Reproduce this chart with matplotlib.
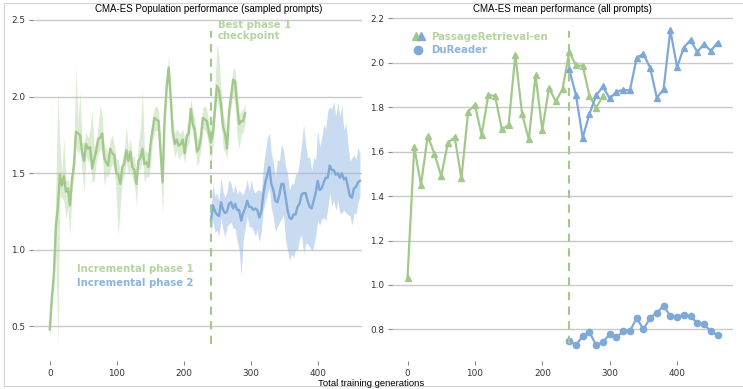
import matplotlib
matplotlib.use("Agg")
import matplotlib.pyplot as plt
from matplotlib.legend_handler import HandlerTuple
from matplotlib.lines import Line2D
from matplotlib.patches import Rectangle
import numpy as np

# ---------------- left panel: population performance (sampled prompts) ----------------
phase1_gen = [0, 3, 6, 9, 12, 15, 18, 21, 24, 27, 30, 33, 36, 39, 42, 45, 48, 51, 54, 57,
              60, 63, 66, 69, 72, 75, 78, 81, 84, 87, 90, 93, 96, 99, 102, 105, 108, 111, 114, 117,
              120, 123, 126, 129, 132, 135, 138, 141, 144, 147, 150, 153, 156, 159, 162, 165, 168, 171, 174, 177,
              180, 183, 186, 189, 192, 195, 198, 201, 204, 207, 210, 213, 216, 219, 222, 225, 228, 231, 234, 237,
              240, 243, 246, 249, 252, 255, 258, 261, 264, 267, 270, 273, 276, 279, 282, 285, 288, 291]
phase1_mean = [0.48, 0.68, 0.83, 1.15, 1.28, 1.49, 1.42, 1.48, 1.38, 1.40, 1.29, 1.46, 1.55, 1.77, 1.76, 1.75, 1.64, 1.58, 1.69, 1.66,
               1.67, 1.53, 1.59, 1.64, 1.72, 1.73, 1.76, 1.60, 1.57, 1.55, 1.66, 1.63, 1.62, 1.50, 1.49, 1.43, 1.54, 1.56, 1.65, 1.58,
               1.64, 1.54, 1.52, 1.43, 1.58, 1.60, 1.66, 1.56, 1.57, 1.54, 1.69, 1.78, 1.86, 1.85, 1.84, 1.64, 1.44, 1.86, 2.06, 2.19,
               2.00, 1.77, 1.69, 1.72, 1.68, 1.69, 1.72, 1.63, 1.74, 1.76, 1.92, 1.82, 1.78, 1.64, 1.66, 1.73, 1.86, 1.85, 1.84, 1.76,
               1.70, 1.76, 1.92, 2.07, 2.04, 1.95, 1.80, 1.76, 1.66, 1.90, 2.00, 2.11, 2.10, 1.95, 1.82, 1.84, 1.84, 1.89]
phase1_up = [0.05, 0.08, 0.12, 0.25, 0.75, 0.20, 0.08, 0.25, 0.07, 0.06, 0.10, 0.08, 0.12, 0.42, 0.08, 0.28, 0.06, 0.12, 0.08, 0.07,
             0.12, 0.38, 0.08, 0.07, 0.09, 0.22, 0.12, 0.07, 0.09, 0.08, 0.06, 0.12, 0.07, 0.09, 0.10, 0.07, 0.06, 0.09, 0.16, 0.07,
             0.09, 0.07, 0.09, 0.07, 0.12, 0.20, 0.38, 0.09, 0.07, 0.09, 0.07, 0.10, 0.07, 0.09, 0.07, 0.09, 0.09, 0.07, 0.06, 0.08,
             0.07, 0.09, 0.07, 0.07, 0.09, 0.07, 0.07, 0.09, 0.07, 0.09, 0.07, 0.09, 0.07, 0.09, 0.07, 0.09, 0.07, 0.09, 0.07, 0.07,
             0.09, 0.14, 0.15, 0.28, 0.22, 0.10, 0.09, 0.07, 0.09, 0.10, 0.07, 0.08, 0.07, 0.09, 0.07, 0.06, 0.08, 0.06]
phase1_down = [0.05, 0.06, 0.08, 0.18, 0.90, 0.14, 0.08, 0.16, 0.18, 0.12, 0.20, 0.09, 0.07, 0.09, 0.14, 0.09, 0.12, 0.20, 0.07, 0.09,
               0.06, 0.09, 0.14, 0.07, 0.09, 0.07, 0.12, 0.18, 0.09, 0.07, 0.14, 0.07, 0.09, 0.14, 0.40, 0.14, 0.09, 0.07, 0.07, 0.09,
               0.12, 0.07, 0.09, 0.14, 0.06, 0.07, 0.07, 0.12, 0.09, 0.07, 0.14, 0.07, 0.09, 0.07, 0.07, 0.14, 0.22, 0.09, 0.07, 0.06,
               0.09, 0.07, 0.09, 0.07, 0.09, 0.07, 0.09, 0.07, 0.07, 0.07, 0.09, 0.07, 0.09, 0.09, 0.09, 0.07, 0.07, 0.07, 0.09, 0.09,
               0.14, 0.09, 0.07, 0.09, 0.12, 0.09, 0.14, 0.12, 0.07, 0.07, 0.07, 0.09, 0.16, 0.22, 0.16, 0.09, 0.07, 0.06]

phase2_gen = [240, 243, 246, 249, 252, 255, 258, 261, 264, 267, 270, 273, 276, 279, 282, 285, 288, 291, 294, 297,
              300, 303, 306, 309, 312, 315, 318, 321, 324, 327, 330, 333, 336, 339, 342, 345, 348, 351, 354, 357,
              360, 363, 366, 369, 372, 375, 378, 381, 384, 387, 390, 393, 396, 399, 402, 405, 408, 411, 414, 417,
              420, 423, 426, 429, 432, 435, 438, 441, 444, 447, 450, 453, 456, 459, 462]
phase2_mean = [1.19, 1.29, 1.25, 1.23, 1.22, 1.31, 1.26, 1.24, 1.25, 1.30, 1.31, 1.27, 1.30, 1.26, 1.26, 1.19, 1.24, 1.27, 1.32, 1.28,
               1.28, 1.26, 1.27, 1.26, 1.21, 1.25, 1.36, 1.44, 1.49, 1.54, 1.43, 1.39, 1.32, 1.31, 1.36, 1.43, 1.43, 1.35, 1.26, 1.21,
               1.20, 1.23, 1.23, 1.28, 1.30, 1.36, 1.37, 1.37, 1.32, 1.28, 1.27, 1.32, 1.37, 1.45, 1.39, 1.40, 1.44, 1.47, 1.47, 1.55,
               1.52, 1.52, 1.49, 1.50, 1.47, 1.50, 1.46, 1.47, 1.41, 1.35, 1.34, 1.40, 1.41, 1.44, 1.45]
phase2_up = [0.08, 0.14, 0.10, 0.14, 0.10, 0.16, 0.12, 0.10, 0.13, 0.16, 0.12, 0.10, 0.13, 0.10, 0.13, 0.18, 0.12, 0.13, 0.14, 0.10,
             0.18, 0.13, 0.10, 0.13, 0.18, 0.13, 0.18, 0.20, 0.24, 0.22, 0.20, 0.18, 0.16, 0.28, 0.22, 0.26, 0.22, 0.20, 0.24, 0.18,
             0.23, 0.20, 0.26, 0.22, 0.28, 0.33, 0.45, 0.32, 0.28, 0.33, 0.25, 0.28, 0.22, 0.33, 0.28, 0.33, 0.38, 0.32, 0.44, 0.38,
             0.40, 0.45, 0.38, 0.46, 0.40, 0.44, 0.32, 0.36, 0.28, 0.23, 0.26, 0.22, 0.18, 0.23, 0.18]
phase2_down = [0.08, 0.10, 0.14, 0.10, 0.13, 0.10, 0.13, 0.16, 0.10, 0.13, 0.13, 0.13, 0.16, 0.20, 0.26, 0.36, 0.18, 0.13, 0.10, 0.13,
               0.13, 0.13, 0.18, 0.13, 0.16, 0.13, 0.10, 0.13, 0.13, 0.13, 0.16, 0.18, 0.20, 0.16, 0.18, 0.23, 0.20, 0.28, 0.26, 0.28,
               0.23, 0.28, 0.23, 0.28, 0.23, 0.26, 0.40, 0.33, 0.28, 0.26, 0.28, 0.30, 0.28, 0.26, 0.23, 0.20, 0.23, 0.28, 0.20, 0.18,
               0.23, 0.20, 0.23, 0.18, 0.23, 0.26, 0.20, 0.23, 0.18, 0.13, 0.18, 0.16, 0.18, 0.13, 0.10]

# ---------------- right panel: mean performance (all prompts) ----------------
passage_gen = [0, 10, 20, 30, 40, 50, 60, 70, 80, 90, 100, 110, 120, 130, 140, 150, 160, 170, 180, 190,
               200, 210, 220, 230, 240, 250, 260, 270, 280, 290]
passage_p1 = [1.03, 1.62, 1.45, 1.67, 1.59, 1.49, 1.64, 1.665, 1.48, 1.78, 1.81, 1.675, 1.855, 1.85, 1.70, 1.72, 2.035, 1.77, 1.655, 1.943,
              1.698, 1.886, 1.826, 1.881, 2.048, 1.988, 1.986, 1.851, 1.797, 1.851]
phase2_eval_gen = [240, 250, 260, 270, 280, 290, 300, 310, 320, 330, 340, 350, 360, 370, 380, 390, 400, 410, 420, 430,
                   440, 450, 460]
passage_p2 = [1.97, 1.853, 1.662, 1.77, 1.853, 1.893, 1.839, 1.869, 1.878, 1.875, 2.021, 2.041, 1.977, 1.842, 1.881, 2.146, 1.98, 2.068, 2.102, 2.048,
              2.084, 2.053, 2.09]
dureader_p2 = [0.750, 0.728, 0.771, 0.788, 0.729, 0.743, 0.779, 0.764, 0.792, 0.792, 0.851, 0.801, 0.851, 0.876, 0.905, 0.861, 0.858, 0.863, 0.860, 0.828,
               0.824, 0.791, 0.774]

checkpoint_gen = 240
left_yticks = [0.5, 1.0, 1.5, 2.0, 2.5]
right_yticks = [0.8, 1.0, 1.2, 1.4, 1.6, 1.8, 2.0, 2.2]
xticks = [0, 100, 200, 300, 400]

GREEN = "#a2c98b"
GREEN_BAND = "#a8cd92"
GREEN_TEXT = "#b4d5a0"
BLUE = "#7ea8d8"
BLUE_BAND = "#94b8e2"
BLUE_TEXT = "#8fb3dd"
GRID = "#c9c9c9"
TICK = "#333333"
TITLE_FONT = ["Liberation Sans", "DejaVu Sans"]

fig = plt.figure(figsize=(7.43, 3.89), dpi=100)
fig.patch.set_facecolor("white")
fig.patches.append(Rectangle((4 / 743, 3 / 389), 1.2, 383 / 389, transform=fig.transFigure,
                             fill=False, edgecolor="#d2d2d2", linewidth=0.8, zorder=0))

ax1 = fig.add_axes([33 / 743, 1 - 361 / 389, 329 / 743, 347 / 389])
ax2 = fig.add_axes([392 / 743, 1 - 361 / 389, 341 / 743, 347 / 389])


def style_axes(ax):
    for s in ax.spines.values():
        s.set_visible(False)
    ax.set_facecolor("none")
    ax.grid(axis="y", color=GRID, linewidth=1.0)
    ax.grid(axis="x", visible=False)
    ax.set_axisbelow(True)
    ax.tick_params(axis="both", which="major", length=3, width=0.8, color="#888888",
                   labelsize=6.4, labelcolor=TICK, pad=2.5)


# left panel: mean with a shaded spread per generation
p1g = np.array(phase1_gen)
p1m = np.array(phase1_mean)
ax1.fill_between(p1g, p1m - np.array(phase1_down), p1m + np.array(phase1_up),
                 color=GREEN_BAND, alpha=0.4, linewidth=0)
ax1.plot(p1g, p1m, color=GREEN, linewidth=1.7)
p2g = np.array(phase2_gen)
p2m = np.array(phase2_mean)
ax1.fill_between(p2g, p2m - np.array(phase2_down), p2m + np.array(phase2_up),
                 color=BLUE_BAND, alpha=0.5, linewidth=0)
ax1.plot(p2g, p2m, color=BLUE, linewidth=1.7)
ax1.axvline(checkpoint_gen, ymin=0.05, ymax=0.95, color=GREEN, linestyle=(0, (4, 3)),
            linewidth=1.5, zorder=5)
ax1.set_xlim(-25, 465)
ax1.set_ylim(0.274, 2.539)
ax1.set_xticks(xticks)
ax1.set_yticks(left_yticks)
ax1.set_yticklabels([f"{v:.1f}" for v in left_yticks])
style_axes(ax1)
ax1.set_title("CMA-ES Population performance (sampled prompts)", fontsize=7.0,
              family=TITLE_FONT, pad=1.5, x=0.535)
ax1.text(250, 2.50, "Best phase 1\ncheckpoint", color=GREEN_TEXT, fontsize=7.3,
         fontweight="bold", va="top", ha="left", linespacing=1.1)
ax1.text(40, 0.875, "Incremental phase 1", color=GREEN_TEXT, fontsize=7.3,
         fontweight="bold", va="center", ha="left")
ax1.text(40, 0.785, "Incremental phase 2", color=BLUE_TEXT, fontsize=7.3,
         fontweight="bold", va="center", ha="left")

# right panel: evaluations every 10 generations
ax2.plot(passage_gen, passage_p1, color=GREEN, linewidth=1.6, marker="^", markersize=4.5)
ax2.plot(phase2_eval_gen, passage_p2, color=BLUE, linewidth=1.6, marker="^", markersize=4.5)
ax2.plot(phase2_eval_gen, dureader_p2, color=BLUE, linewidth=1.6, marker="o", markersize=4.5)
ax2.axvline(checkpoint_gen, ymin=0.05, ymax=0.95, color=GREEN, linestyle=(0, (4, 3)),
            linewidth=1.5, zorder=5)
ax2.set_xlim(-23, 483)
ax2.set_ylim(0.658, 2.219)
ax2.set_xticks(xticks)
ax2.set_yticks(right_yticks)
ax2.set_yticklabels([f"{v:.1f}" for v in right_yticks])
style_axes(ax2)
ax2.set_title("CMA-ES mean performance (all prompts)", fontsize=7.0,
              family=TITLE_FONT, pad=1.5)

h_tri_g = Line2D([], [], linestyle="none", marker="^", color=GREEN, markersize=6)
h_tri_b = Line2D([], [], linestyle="none", marker="^", color=BLUE, markersize=6)
h_dot = Line2D([], [], linestyle="none", marker="o", color=BLUE, markersize=6)
ax2.legend([(h_tri_g, h_tri_b), h_dot], ["PassageRetrieval-en", "DuReader"],
           handler_map={tuple: HandlerTuple(ndivide=None, pad=0.0)},
           loc="upper left", bbox_to_anchor=(0.035, 0.975), frameon=False,
           prop={"weight": "bold", "size": 7.3}, handlelength=1.0,
           handletextpad=0.8, labelspacing=0.35,
           labelcolor=[GREEN_TEXT, BLUE_TEXT])

fig.text(0.5, 1 - 379 / 389, "Total training generations", ha="center", va="top",
         fontsize=6.8, family=TITLE_FONT)

fig.savefig("out.png", dpi=100)
